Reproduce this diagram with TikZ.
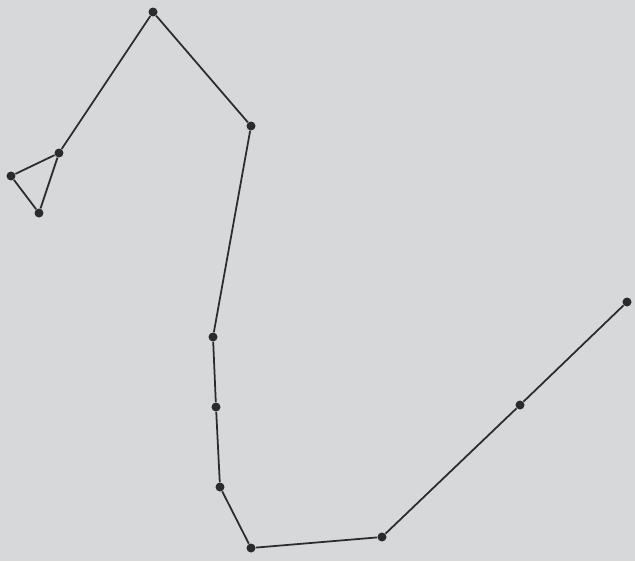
\documentclass[tikz,border=0pt]{standalone}
\definecolor{paper}{HTML}{D6D8DA}
\definecolor{ink}{HTML}{2B2B2D}
\tikzset{star/.style={circle, fill=ink, inner sep=0pt, minimum size=0.18cm},
         link/.style={ink, line width=1pt}}
\begin{document}
\begin{tikzpicture}[x=0.02cm, y=-0.02cm]
\fill[paper] (0,0) rectangle (635,561);
\useasboundingbox (0,0) rectangle (635,561);
% stars
\node[star] (top) at (153,12) {};
\node[star] (shoulder) at (251,126) {};
\node[star] (bodyA) at (213,337) {};
\node[star] (bodyB) at (216,407) {};
\node[star] (bodyC) at (220,487) {};
\node[star] (tailA) at (251,548) {};
\node[star] (tailB) at (382,537) {};
\node[star] (tailC) at (520,405) {};
\node[star] (tip) at (627,302) {};
\node[star] (headA) at (59,153) {};
\node[star] (headB) at (11,176) {};
\node[star] (headC) at (39,213) {};
% lines
\draw[link] (headA) -- (top) -- (shoulder) -- (bodyA) -- (bodyB) -- (bodyC) -- (tailA) -- (tailB) -- (tailC) -- (tip);
\draw[link] (headA) -- (headB) -- (headC) -- (headA);
\end{tikzpicture}
\end{document}
